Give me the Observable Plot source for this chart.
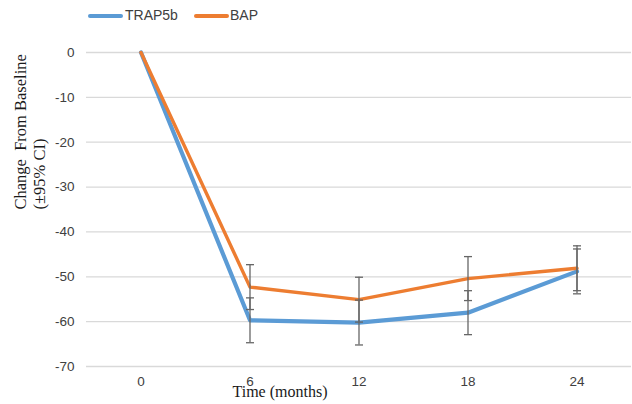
<!DOCTYPE html>
<html>
<head>
<meta charset="utf-8">
<script src="https://cdn.jsdelivr.net/npm/d3@7"></script>
<script src="https://cdn.jsdelivr.net/npm/@observablehq/plot@0.6"></script>
<style>
  html, body { margin: 0; padding: 0; background: #fff; }
  #wrap { width: 632px; }
  #legend { height: 30px; position: relative; font-family: "Liberation Sans", Arial, sans-serif; font-size: 14px; color: #404040; }
  .sw { position: absolute; top: 14px; height: 4px; border-radius: 2px; width: 35px; }
  .lb { position: absolute; top: 7px; line-height: 16px; }
</style>
</head>
<body>
<div id="wrap">
  <div id="legend"></div>
  <div id="chart"></div>
</div>
<script>
const months = [0, 6, 12, 18, 24];
const seriesNames = ["TRAP5b", "BAP"];
const seriesColors = ["#5B9BD5", "#ED7D31"];
const trap5b = [0, -59.7, -60.2, -58.0, -48.8];
const trap5bLow = [null, -64.7, -65.2, -62.9, -53.8];
const trap5bHigh = [null, -54.7, -55.2, -53.1, -43.8];
const bap = [0, -52.3, -55.1, -50.4, -48.1];
const bapLow = [null, -57.3, -60.1, -55.3, -53.1];
const bapHigh = [null, -47.3, -50.1, -45.5, -43.1];
const yTicks = [0, -10, -20, -30, -40, -50, -60, -70];

// legend (HTML above the SVG)
const legend = document.getElementById("legend");
const legendPos = [[88, 125], [194, 230]];
seriesNames.forEach((name, i) => {
  const s = document.createElement("div");
  s.className = "sw";
  s.style.left = legendPos[i][0] + "px";
  s.style.background = seriesColors[i];
  legend.appendChild(s);
  const t = document.createElement("div");
  t.className = "lb";
  t.style.left = legendPos[i][1] + "px";
  t.textContent = name;
  legend.appendChild(t);
});

const rows = [];
months.forEach((m, i) => {
  rows.push({month: m, series: "TRAP5b", value: trap5b[i], lo: trap5bLow[i], hi: trap5bHigh[i]});
});
months.forEach((m, i) => {
  rows.push({month: m, series: "BAP", value: bap[i], lo: bapLow[i], hi: bapHigh[i]});
});
const bars = rows.filter(d => d.lo != null);
const trapRows = rows.filter(d => d.series === "TRAP5b");
const bapRows = rows.filter(d => d.series === "BAP");

// horizontal cap symbol for the error bars
const capSymbol = {draw(context) { context.moveTo(-4, 0); context.lineTo(4, 0); }};

const chart = Plot.plot({
  width: 632,
  height: 374,
  marginTop: 22,
  marginBottom: 38,
  marginLeft: 86,
  marginRight: 1,
  style: {fontFamily: "'Liberation Sans', Arial, sans-serif", fontSize: "13.5px", color: "#404040", background: "#fff"},
  x: {type: "point", domain: months, padding: 0.5, round: false, tickSize: 0, tickPadding: 10, label: null, tickFormat: d => String(d)},
  y: {domain: [-70, 0], ticks: yTicks, tickSize: 0, tickPadding: 12, label: null, tickFormat: d => String(d)},
  marks: [
    Plot.ruleY(yTicks, {stroke: "#d9d9d9", strokeWidth: 1.3}),
    Plot.line(trapRows, {x: "month", y: "value", stroke: seriesColors[0], strokeWidth: 4.2, strokeLinejoin: "round"}),
    Plot.line(bapRows, {x: "month", y: "value", stroke: seriesColors[1], strokeWidth: 3.4, strokeLinejoin: "round"}),
    Plot.ruleX(bars, {x: "month", y1: "lo", y2: "hi", stroke: "#666", strokeWidth: 1.3}),
    Plot.dot(bars, {x: "month", y: "lo", symbol: capSymbol, stroke: "#666", strokeWidth: 1.3, fill: "none"}),
    Plot.dot(bars, {x: "month", y: "hi", symbol: capSymbol, stroke: "#666", strokeWidth: 1.3, fill: "none"}),
    Plot.text(["Change  From Baseline\n(±95% CI)"], {
      frameAnchor: "left", dx: -57, rotate: -90, lineHeight: 1.13,
      fontFamily: "'Liberation Serif', 'Times New Roman', serif", fontSize: 16.5, fill: "#1a1a1a"
    }),
    Plot.text(["Time (months)"], {
      frameAnchor: "bottom", dx: -79, dy: 30,
      fontFamily: "'Liberation Serif', 'Times New Roman', serif", fontSize: 16, fill: "#1a1a1a"
    })
  ]
});
document.getElementById("chart").appendChild(chart);
</script>
</body>
</html>
